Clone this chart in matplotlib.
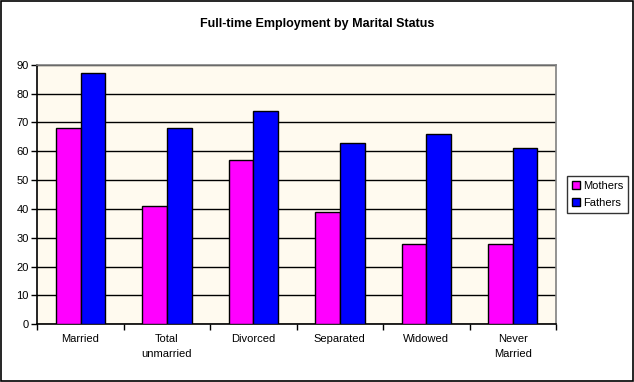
import numpy as np
import matplotlib.pyplot as plt
from matplotlib.patches import Rectangle

plt.rcParams['font.family'] = ['Liberation Sans', 'DejaVu Sans']

categories = ["Married", "Total\nunmarried", "Divorced", "Separated", "Widowed", "Never\nMarried"]
mothers = [68, 41, 57, 39, 28, 28]
fathers = [87, 68, 74, 63, 66, 61]

fig = plt.figure(figsize=(6.34, 3.82), dpi=100)
fig.patch.set_facecolor("white")
# black frame round the whole chart
fig.add_artist(Rectangle((0.001, 0.003), 0.997, 0.995, transform=fig.transFigure,
                         fill=False, edgecolor="black", linewidth=1.2))

ax = fig.add_axes([0.0588, 0.151, 0.8181, 0.6796])
ax.set_facecolor("#FFFAEF")

x = np.arange(len(categories))
w = 1 / 3.5
ax.bar(x - w / 2, mothers, width=w, color="#FF00FF", edgecolor="black", linewidth=1, label="Mothers", zorder=3)
ax.bar(x + w / 2, fathers, width=w, color="#0000FF", edgecolor="black", linewidth=1, label="Fathers", zorder=3)

ax.set_xlim(-0.5, len(categories) - 0.5)
ax.set_ylim(0, 90)
ax.set_yticks(range(0, 91, 10))
ax.yaxis.grid(True, color="black", linewidth=1, zorder=1)
ax.set_axisbelow(True)

ax.set_xticks(x)
ax.set_xticklabels(categories, fontsize=8, linespacing=1.6)
ax.set_xticks(np.arange(-0.5, len(categories)), minor=True)
ax.tick_params(axis="x", which="major", length=0, pad=7)
ax.tick_params(axis="x", which="minor", length=4, width=1, direction="out", color="black")
ax.tick_params(axis="y", length=4, width=1, direction="out", labelsize=8, pad=2)

for side in ["top", "right"]:
    ax.spines[side].set_color("#808080")
    ax.spines[side].set_linewidth(1.2)
for side in ["left", "bottom"]:
    ax.spines[side].set_color("black")
    ax.spines[side].set_linewidth(1.2)

fig.text(0.5, 0.936, "Full-time Employment by Marital Status", ha="center", va="center",
         fontsize=9, fontweight="bold")

leg = ax.legend(loc="center left", bbox_to_anchor=(1.021, 0.5), fontsize=8,
                frameon=True, fancybox=False, edgecolor="black", handlelength=0.7,
                handleheight=0.7, handletextpad=0.3, borderpad=0.45, labelspacing=0.65,
                borderaxespad=0)
leg.get_frame().set_linewidth(1)

fig.savefig("out.png", dpi=100)
